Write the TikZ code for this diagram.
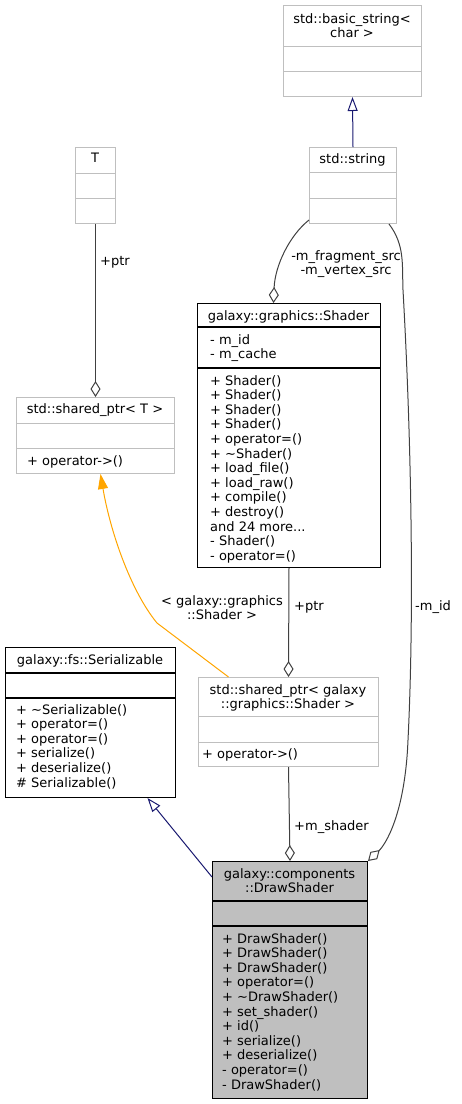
\documentclass[tikz,border=0pt]{standalone}
\usepackage{fontspec}
\setmainfont{DejaVu Sans}
\usetikzlibrary{arrows.meta, calc}
\definecolor{boxgray}{HTML}{BFBFBF}
\definecolor{edgegray}{HTML}{404040}
\definecolor{inheritblue}{HTML}{191970}
\definecolor{templorange}{HTML}{FFA500}
\tikzset{classbox/.style = {shape = rectangle, draw, anchor = north west, inner sep = 0pt, line width = 1pt}}
\tikzset{grayclass/.style = {classbox, draw = boxgray, fill = white}}
\tikzset{blackclass/.style = {classbox, draw = black, fill = white}}
\tikzset{graydiv/.style = {draw = boxgray, line width = 1pt}}
\tikzset{blackdiv/.style = {draw = black, line width = 1.4pt}}
\tikzset{title/.style = {font = \fontsize{13}{14.2}\selectfont, align = center, anchor = north, inner sep = 0pt}}
\tikzset{members/.style = {font = \fontsize{13}{14.6}\selectfont, align = left, anchor = north west, inner sep = 0pt}}
\tikzset{edgelabel/.style = {font = \fontsize{13}{14.6}\selectfont, align = center, inner sep = 0pt}}
\tikzset{assoc/.style = {draw = edgegray, line width = 1pt, {Diamond[open, length = 16pt, width = 10pt]}-}}
\tikzset{inherit/.style = {draw = inheritblue, line width = 1pt, -{Triangle[open, length = 14pt, width = 10pt]}}}
\tikzset{templ/.style = {draw = templorange, line width = 1pt, -{Triangle[length = 15pt, width = 10pt, fill = templorange]}}}

\begin{document}
\begin{tikzpicture}[x = 1pt, y = -1pt]
	\useasboundingbox (0, 0) rectangle (461, 1104);

	% classes
	\node[grayclass, minimum width = 138, minimum height = 91] (basicstr) at (283, 5) {};
	\draw[graydiv] (283, 46) -- (421, 46);
	\draw[graydiv] (283, 71) -- (421, 71);
	\node[title] (basicstrname) at (352, 13) {std::basic\_string<\\char >};

	\node[grayclass, minimum width = 87, minimum height = 76] (stdstr) at (309, 147) {};
	\draw[graydiv] (309, 172) -- (396, 172);
	\draw[graydiv] (309, 198) -- (396, 198);
	\node[title] (stdstrname) at (352.5, 153) {std::string};

	\node[grayclass, minimum width = 40, minimum height = 76] (tclass) at (75, 147) {};
	\draw[graydiv] (75, 173) -- (115, 173);
	\draw[graydiv] (75, 198) -- (115, 198);
	\node[title] (tclassname) at (95, 153) {T};

	\node[grayclass, minimum width = 158, minimum height = 76] (sptrT) at (16, 397) {};
	\draw[graydiv] (16, 423) -- (174, 423);
	\draw[graydiv] (16, 448) -- (174, 448);
	\node[title] (sptrTname) at (95, 403) {std::shared\_ptr< T >};
	\node[members] (sptrTops) at (27, 455) {+ operator->()};

	\node[blackclass, minimum width = 183, minimum height = 264] (shader) at (197, 303) {};
	\draw[blackdiv] (197, 327) -- (380, 327);
	\draw[blackdiv] (197, 368) -- (380, 368);
	\node[title] (shadername) at (288.5, 310) {galaxy::graphics::Shader};
	\node[members] (shaderattrs) at (210, 334) {- m\_id\\- m\_cache};
	\node[members] (shaderops) at (210, 375) {+ Shader()\\+ Shader()\\+ Shader()\\+ Shader()\\+ operator=()\\+ \textasciitilde Shader()\\+ load\_file()\\+ load\_raw()\\+ compile()\\+ destroy()\\and 24 more...\\- Shader()\\- operator=()};

	\node[blackclass, minimum width = 170, minimum height = 150] (serial) at (5, 647) {};
	\draw[blackdiv] (5, 673) -- (175, 673);
	\draw[blackdiv] (5, 698) -- (175, 698);
	\node[title] (serialname) at (90, 654) {galaxy::fs::Serializable};
	\node[members] (serialops) at (16, 704) {+ \textasciitilde Serializable()\\+ operator=()\\+ operator=()\\+ serialize()\\+ deserialize()\\\# Serializable()};

	\node[grayclass, minimum width = 180, minimum height = 89] (sptrshader) at (198, 677) {};
	\draw[graydiv] (198, 716) -- (378, 716);
	\draw[graydiv] (198, 742) -- (378, 742);
	\node[title] (sptrshadername) at (288, 684) {std::shared\_ptr< galaxy\\::graphics::Shader >};
	\node[members] (sptrshaderops) at (202, 748) {+ operator->()};

	\node[blackclass, fill = boxgray, minimum width = 155, minimum height = 237] (drawshader) at (212, 861) {};
	\draw[blackdiv] (212, 901) -- (367, 901);
	\draw[blackdiv] (212, 926) -- (367, 926);
	\node[title] (drawshadername) at (289.5, 868) {galaxy::components\\::DrawShader};
	\node[members] (drawshaderops) at (222, 933) {+ DrawShader()\\+ DrawShader()\\+ DrawShader()\\+ operator=()\\+ \textasciitilde DrawShader()\\+ set\_shader()\\+ id()\\+ serialize()\\+ deserialize()\\- operator=()\\- DrawShader()};

	% relations
	\draw[inherit] (stdstr.north) -- (basicstr.south);
	\draw[assoc] (sptrT.north) -- (tclass.south);
	\node[edgelabel, anchor = west] (ptrT) at (100, 262) {+ptr};

	\draw[assoc] ([xshift = -15.5pt]shader.north) .. controls (275, 265) and (290, 235) .. ([yshift = 4pt]stdstr.south west);
	\node[edgelabel, anchor = north] (srclabel) at (346, 250) {-m\_fragment\_src\\-m\_vertex\_src};

	\draw[assoc] (drawshader.north east) .. controls (385, 845) and (405, 815) .. (408, 740)
		.. controls (414, 620) and (412, 450) .. (403, 290)
		.. controls (402, 265) and (405, 245) .. ([xshift = -8pt]stdstr.south east);
	\node[edgelabel, anchor = west] (idlabel) at (415, 607) {-m\_id};

	\draw[assoc] (sptrshader.north) -- (shader.south);
	\node[edgelabel, anchor = west] (ptrshader) at (294, 607) {+ptr};

	\draw[templ] ([xshift = -60pt]sptrshader.north) -- (157, 623) .. controls (130, 590) and (110, 530) .. ([xshift = 5pt]sptrT.south);
	\node[edgelabel, anchor = north] (templlabel) at (222, 595) {< galaxy::graphics\\::Shader >};

	\draw[inherit] ([yshift = -16pt]drawshader.north west) -- ([xshift = 57pt]serial.south);
	\draw[assoc] (drawshader.north) -- (sptrshader.south);
	\node[edgelabel, anchor = west] (shaderlabel) at (294, 827) {+m\_shader};
\end{tikzpicture}
\end{document}
